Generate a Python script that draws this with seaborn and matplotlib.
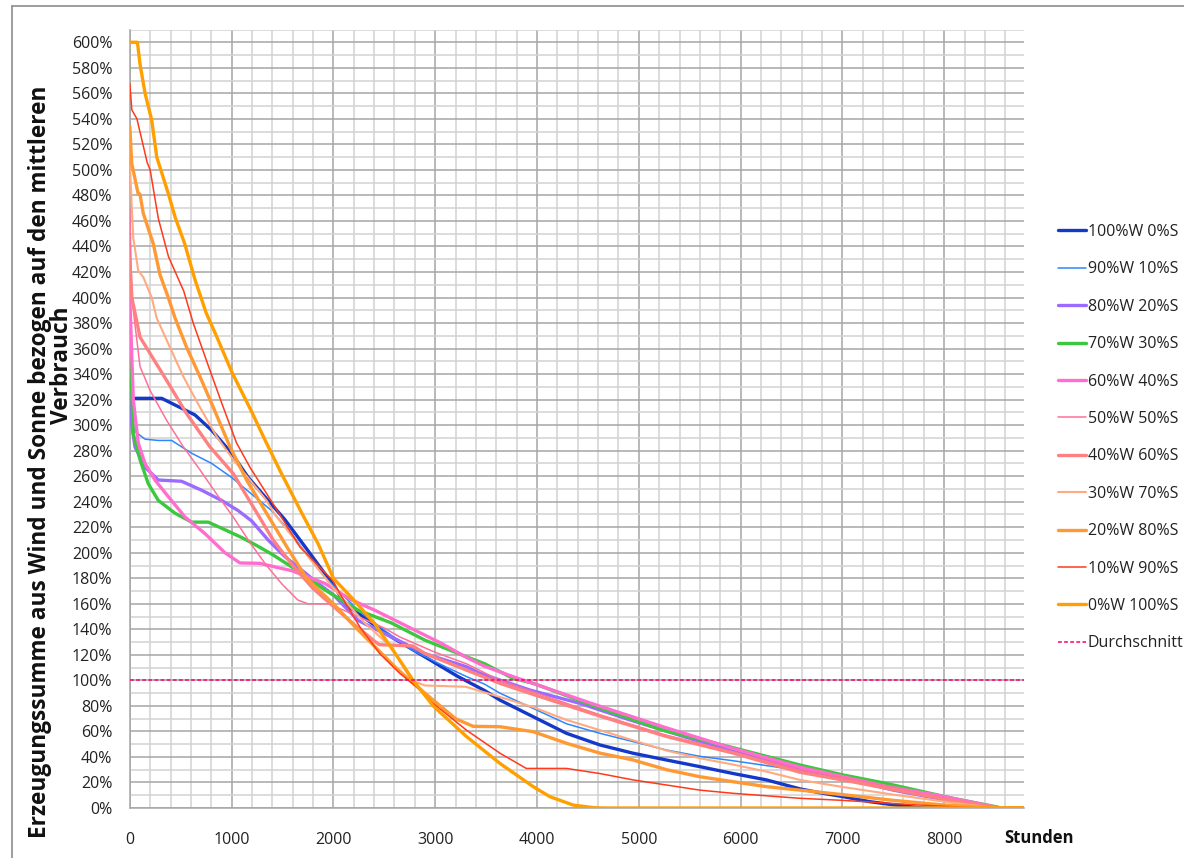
import numpy as np
import pandas as pd
import matplotlib
matplotlib.use("Agg")
import matplotlib.pyplot as plt
import seaborn as sns
from matplotlib.lines import Line2D
from matplotlib.ticker import MultipleLocator, FuncFormatter

sns.set_style("white")
plt.rcParams['font.family'] = ['Open Sans', 'DejaVu Sans']

# ---------------- data (hours, percent) ----------------
labels = ["100%W 0%S", "90%W 10%S", "80%W 20%S", "70%W 30%S", "60%W 40%S",
          "50%W 50%S", "40%W 60%S", "30%W 70%S", "20%W 80%S", "10%W 90%S",
          "0%W 100%S"]

h_w100 = [0, 313, 640, 804, 1000, 1163, 1359, 1523, 1719, 2014, 2112, 2374, 2570, 2897, 3224, 3486, 3635,
          3963, 4290, 4618, 4945, 5273, 5600, 5928, 6255, 6583, 6774, 7000, 7265, 7500, 7750, 7800, 8784]
v_w100 = [321, 321, 308, 296, 278, 259, 241, 226, 205, 173, 160, 145, 134, 118.5, 103, 92, 84.6,
          71.5, 58.5, 49.4, 42.9, 37.6, 32.4, 27, 22, 15, 12, 9, 5, 2.5, 0.3, 0, 0]

h_w90 = [0, 15, 50, 150, 280, 411, 607, 804, 1000, 1196, 1393, 1589, 1700, 1915, 2242, 2504, 2766, 3093,
         3307, 3486, 3635, 3963, 4290, 4618, 4945, 5273, 5600, 5928, 6447, 6774, 7101, 7755, 8000, 8409, 8550, 8784]
v_w90 = [340, 305, 295, 289, 288, 288, 278, 270, 259, 246, 233, 215, 203, 181, 155, 139, 124, 111,
         103, 97, 90, 78, 66, 58.5, 52, 45.4, 40.5, 37, 31, 27, 20.6, 10.2, 6.5, 2.3, 0, 0]

h_w80 = [0, 20, 51, 149, 280, 509, 706, 902, 1065, 1196, 1359, 1523, 1850, 2000, 2242, 2570, 2897, 3307,
         3441, 3932, 4422, 4913, 5565, 5928, 6583, 6774, 7500, 8000, 8550, 8784]
v_w80 = [360, 300, 283, 267, 257, 256, 249, 241, 233, 225, 210, 197, 176, 167, 147, 134, 121, 110.7,
         105.5, 92.4, 82, 69, 53, 44.5, 30, 28, 14, 6.5, 0, 0]

h_w70 = [0, 34, 100, 182, 280, 444, 607, 771, 935, 1098, 1261, 1393, 1589, 1915, 2242, 2570, 2897, 3307,
         3486, 3763, 3963, 4582, 5236, 5890, 6583, 7000, 7428, 8082, 8508, 8560, 8784]
v_w70 = [370, 293, 273, 254, 241, 231, 224, 224, 218, 212, 205, 199, 189, 171, 155, 145, 131.6, 118.5,
         113, 101.6, 97.7, 79.4, 61, 48, 33.7, 26, 19.3, 7.6, 1, 0, 0]

h_w60 = [0, 34, 83, 149, 247, 378, 542, 738, 935, 1082, 1278, 1474, 1589, 1915, 2178, 2406, 2733, 3061,
         3307, 3486, 3763, 4582, 5236, 5890, 6583, 7428, 8000, 8550, 8784]
v_w60 = [400, 320, 286, 270, 257, 244, 228, 215, 200, 192, 191.7, 188, 186, 176, 163, 155, 142, 129,
         118, 111, 103, 80.7, 63.7, 47.5, 32, 17, 9, 0, 0]

h_w50 = [0, 20, 100, 200, 360, 526, 689, 853, 1016, 1180, 1343, 1500, 1650, 1750, 1950, 2100, 2300, 2500,
         2653, 3000, 3307, 3635, 3963, 4618, 5273, 5928, 6583, 7000, 7500, 8000, 8550, 8784]
v_w50 = [470, 400, 346, 327, 304, 283, 265, 246, 228, 208, 190, 175, 163, 160, 160, 155, 148, 141,
         134, 122, 113, 100, 91, 73, 57, 44, 30, 24, 16, 7.5, 0, 0]

h_w40 = [0, 20, 100, 200, 362, 558, 787, 1016, 1212, 1408, 1600, 1800, 2000, 2200, 2400, 2450, 2780, 2900,
         3224, 3635, 3963, 4618, 5273, 5928, 6583, 7000, 7500, 8000, 8550, 8784]
v_w40 = [430, 400, 369, 356, 335, 309, 283, 262, 236, 210, 190, 172, 158, 144, 131, 128, 127, 121,
         110.7, 97.7, 89, 72, 56, 43, 28, 22, 14.5, 7, 0, 0]

h_w30 = [0, 20, 34, 83, 132, 215, 264, 394, 526, 689, 853, 1016, 1180, 1343, 1425, 1752, 2014, 2308, 2570,
         2766, 2900, 3300, 3635, 3963, 4290, 4618, 4945, 5273, 5600, 5928, 6255, 6583, 7000, 7500, 8000, 8510, 8784]
v_w30 = [505, 470, 447, 421, 416, 400, 384, 361, 338, 314, 291, 273, 257, 241, 230, 197, 171, 145, 126,
         100, 96, 95, 87, 79, 69, 61, 53, 45, 39, 34, 28.5, 22, 16.5, 10.5, 5, 0, 0]

h_w20 = [0, 19, 83, 100, 132, 231, 296, 378, 444, 558, 689, 820, 984, 1147, 1343, 1540, 1736, 2000, 2200,
         2400, 2600, 2750, 2980, 3200, 3372, 3635, 3963, 4290, 4618, 4945, 5273, 5600, 5928, 6255, 6583,
         7000, 7500, 8000, 8409, 8500, 8784]
v_w20 = [534, 505, 481, 481, 466, 442, 418, 400, 384, 361, 338, 314, 283, 257, 231, 205, 180, 160, 143,
         127, 111, 100, 84.6, 70, 64, 63.7, 59.8, 50.7, 43, 37.6, 30, 24.5, 20.6, 16.7, 14,
         10.5, 6, 2.3, 0.5, 0, 0]

h_w10 = [0, 20, 70, 170, 200, 280, 380, 530, 623, 787, 918, 1049, 1180, 1343, 1507, 1670, 1997, 2063, 2259,
         2455, 2652, 2816, 2980, 3307, 3635, 3895, 4290, 4618, 4945, 5273, 5600, 5928, 6583, 7000, 7755,
         8200, 8300, 8784]
v_w10 = [568, 547, 540, 506, 500, 462, 432, 405, 380, 343, 314, 286, 267, 246.5, 225.6, 204.7, 178, 168, 142,
         121, 105.5, 95, 82, 61, 43, 31, 31, 27, 22, 18, 14, 11.5, 7.6, 6, 2.3,
         0.5, 0, 0]

h_w0 = [0, 75, 100, 150, 215, 265, 380, 445, 540, 640, 750, 850, 1000, 1200, 1330, 1490, 1690, 1850, 2000,
        2200, 2400, 2600, 2783, 2980, 3307, 3635, 3963, 4126, 4355, 4552, 4650, 8784]
v_w0 = [600, 600, 583, 560, 539, 510, 481, 463, 442, 414, 388, 370, 342, 310, 288, 262, 231, 207, 180,
        163, 145, 122, 100, 80, 56, 35, 16.7, 8.9, 2.3, 0.3, 0, 0]

avg_hours = [0, 8784]
avg_value = [100, 100]

hours_list = [h_w100, h_w90, h_w80, h_w70, h_w60, h_w50, h_w40, h_w30, h_w20, h_w10, h_w0]
values_list = [v_w100, v_w90, v_w80, v_w70, v_w60, v_w50, v_w40, v_w30, v_w20, v_w10, v_w0]

# ---------------- styles ----------------
colors = ["#1438C8", "#2E86FF", "#9B6BFF", "#3CC83C", "#FF6ECF", "#FF7099",
          "#FF8080", "#FFAA80", "#FF9933", "#FF3A1A", "#FFA000"]
widths = [2.4, 1.1, 2.4, 2.4, 2.4, 1.1, 2.4, 1.5, 2.4, 1.1, 2.4]

W, H = 1184, 858
fig = plt.figure(figsize=(W / 100, H / 100), dpi=100)
left, right, top, bottom = 129.8, 1024, 29.5, 808
ax = fig.add_axes([left / W, 1 - bottom / H, (right - left) / W, (bottom - top) / H])

grid_major = "#A6A6A6"
grid_minor = "#D2D2D2"

for lab, hh, vv, c, lw in zip(labels, hours_list, values_list, colors, widths):
    df = pd.DataFrame({"h": hh, "v": vv})
    sns.lineplot(data=df, x="h", y="v", ax=ax, color=c, linewidth=lw, label=lab,
                 estimator=None, sort=False, zorder=3)

dfa = pd.DataFrame({"h": avg_hours, "v": avg_value})
sns.lineplot(data=dfa, x="h", y="v", ax=ax, color="#FF0066", linewidth=1.1,
             linestyle=(0, (2.5, 1.5)), label="Durchschnitt", estimator=None, zorder=4)

ax.set_xlim(0, 8784)
ax.set_ylim(0, 610)
ax.xaxis.set_major_locator(MultipleLocator(1000))
ax.xaxis.set_minor_locator(MultipleLocator(200))
ax.yaxis.set_major_locator(MultipleLocator(20))
ax.yaxis.set_minor_locator(MultipleLocator(10))
ax.yaxis.set_major_formatter(FuncFormatter(lambda v, p: f"{int(round(v))}%" if v <= 600 else ""))

ax.grid(which="minor", color=grid_minor, linewidth=1.1, zorder=0)
ax.grid(which="major", axis="y", color=grid_major, linewidth=1.1, zorder=1)
ax.grid(which="major", axis="x", color=grid_major, linewidth=1.1, zorder=1)
ax.set_axisbelow(True)

for s in ["top", "right"]:
    ax.spines[s].set_visible(False)
for s in ["left", "bottom"]:
    ax.spines[s].set_color(grid_major)
    ax.spines[s].set_linewidth(1.1)

ax.tick_params(axis="y", which="major", length=4.5, width=1.1, color=grid_major,
               labelsize=11.5, pad=8, labelcolor="#222222")
ax.tick_params(axis="y", which="minor", length=0)
ax.tick_params(axis="x", which="both", length=6, width=1.1, color=grid_major,
               labelsize=11.5, pad=11, labelcolor="#222222")
ax.tick_params(axis="x", which="minor", color=grid_minor)
ax.set_xlabel("")
ax.set_ylabel("")

# legend
leg = ax.legend(loc="upper left", bbox_to_anchor=(1058 / W, 1 - 224 / H),
                bbox_transform=fig.transFigure, frameon=False, fontsize=11.5,
                handlelength=1.75, handletextpad=0.1, labelspacing=1.34,
                borderpad=0, borderaxespad=0)
for t in leg.get_texts():
    t.set_color("#222222")

# axis titles
fig.text(1004 / W, 1 - 838 / H, "Stunden", fontsize=12, fontweight="bold",
         ha="left", va="center", color="#111111")
t1 = fig.text(40 / W, 1 - 462 / H,
              "Erzeugungssumme aus Wind und Sonne bezogen auf den mittleren",
              rotation=90, fontsize=13, fontweight="bold", ha="center", va="center",
              color="#111111")
t2 = fig.text(62 / W, 1 - 365 / H, "Verbrauch", rotation=90, fontsize=13,
              fontweight="bold", ha="center", va="center", color="#111111")
fig.canvas.draw()
bb = t1.get_window_extent()
scale = 750.0 / bb.height
t1.set_fontsize(13 * scale)
t2.set_fontsize(13 * scale)

# outer frame
fig.add_artist(Line2D([12 / W, 12 / W], [0, 1 - 6 / H], transform=fig.transFigure,
                      color="#8C8C8C", linewidth=1.2))
fig.add_artist(Line2D([12 / W, 1], [1 - 6 / H, 1 - 6 / H], transform=fig.transFigure,
                      color="#8C8C8C", linewidth=1.2))

fig.savefig("out.png", dpi=100, facecolor="white")
